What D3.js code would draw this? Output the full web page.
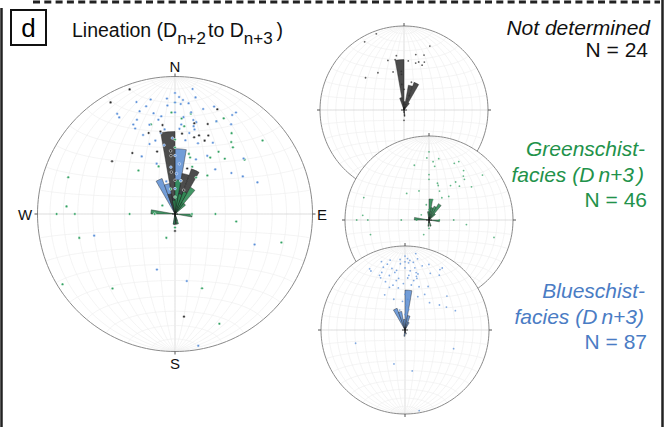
<!DOCTYPE html>
<html>
<head>
<meta charset="utf-8">
<script src="https://cdn.jsdelivr.net/npm/d3@7"></script>
<style>
body { margin: 0; background: #fff; }
svg { display: block; font-family: "Liberation Sans", Arial, sans-serif; }
</style>
</head>
<body>
<div id="app"></div>
<script>
// lineations as [trend, plunge] in degrees
const blackPts = [[340,4],[330,7],[22,19],[352,35],[342,38],[350,39],[5,41],[20,31],[14,42],[17,40],
    [22,42],[23,38],[325,45],[344,51],[310,40],[175,26],[356,52],[356,55],[12,33],[0,70],
    [15,62],[20,75],[180,80],[355,65]];

const bluePts = [[0,13],[8,9],[341,15],[348,16],[356,17],[2,16],[4,18],[3,21],[7,20],[20,18],
    [341,22],[348,26],[0,27],[9,26],[330,17],[330,20],[31,15],[30,18],[350,31],[11,31],
    [13,32],[335,29],[344,33],[4,35],[32,24],[335,32],[13,37],[338,38],[28,41],[340,45],
    [330,50],[29,50],[51,36],[21,55],[42,54],[54,48],[61,43],[69,36],[255,39],[111,38],
    [198,55],[170,49],[170,3],
    [10,15],[353,38],[3,38],[12,35],[24,27],[350,40],[10,40],[351,48],
    [0,55],[5,60],[355,62],[340,58],[2,66],[10,70],[345,70],[0,75],
    [356,22],[0,20],[5,30],[352,29],[345,20],[15,22],[338,27],[8,45],[358,44],[18,45],[345,44]];

const greenPts = [[0,20],[358,27],[9,27],[27,23],[4,31],[24,27],[35,29],[38,34],[50,18],[41,36],
    [35,44],[13,53],[42,45],[341,60],[320,56],[289,19],[274,22],[270,15],[270,28],[270,63],
    [90,66],[304,81],[97,53],[256,29],[105,21],[160,42],[238,4],[220,30],[158,15],
    [6,36],[345,33],[52,36],[32,50],[0,45],[0,50],
    [10,70],[30,65],[350,75],[20,60],[40,60],[0,80],[180,82],[90,80],[270,78],[200,75],[15,55]];

// rose petals: [bin start (deg), frequency %]
const blackRose = [[350,24],[10,12],[20,14],[0,4],[340,6],[30,4],[170,3]];
const blueRose = [[0,19],[330,11],[340,9],[10,7],[350,5],[20,4],[180,3],[160,2]];
const greenRose = [[0,10],[10,6],[20,7],[30,9],[40,4],[350,4],[270,7],[90,5],[180,3],[160,3]];

const groupNames = ["Not determined", "Greenschist-", "Blueschist-"];
const groupN = [24, 46, 87];

const colors = {black: "#2b2b2b", blue: "#5a8fd8", green: "#33a263"};
const petalColors = {black: "#383838", blue: "#6392d4", green: "#2f8c55"};

const width = 665, height = 427;
const rad = Math.PI / 180;

const svg = d3.select("#app").append("svg")
    .attr("width", width)
    .attr("height", height);

// frame
svg.append("line")
    .attr("x1", 33).attr("x2", 660).attr("y1", 2).attr("y2", 2)
    .attr("stroke", "#222").attr("stroke-width", 3)
    .attr("stroke-dasharray", "7,4.3");
svg.append("line")
    .attr("x1", 1.5).attr("x2", 1.5).attr("y1", 8).attr("y2", height)
    .attr("stroke", "#222").attr("stroke-width", 2.5);
svg.append("line")
    .attr("x1", 662.5).attr("x2", 662.5).attr("y1", 0).attr("y2", height)
    .attr("stroke", "#222").attr("stroke-width", 2.5);

// panel letter
svg.append("rect")
    .attr("x", 11).attr("y", 10).attr("width", 35).attr("height", 35)
    .attr("fill", "none").attr("stroke", "#111").attr("stroke-width", 2);
svg.append("text")
    .attr("x", 28.5).attr("y", 37)
    .attr("text-anchor", "middle")
    .attr("font-size", 26)
    .text("d");

let title = svg.append("text")
    .attr("x", 72).attr("y", 37)
    .attr("font-size", 19.5)
    .attr("fill", "#111");
title.append("tspan").text("Lineation (D");
title.append("tspan").attr("dy", 7).attr("font-size", 17).text("n+2");
title.append("tspan").attr("dy", -7).attr("dx", 2).text("to D");
title.append("tspan").attr("dy", 7).attr("font-size", 17).text("n+3");
title.append("tspan").attr("dy", -7).attr("dx", 4).text(")");

function toLonLat(d) {
    let t = d[0] * rad, p = d[1] * rad;
    let n = Math.cos(p) * Math.cos(t);
    let e = Math.cos(p) * Math.sin(t);
    let down = Math.sin(p);
    return [Math.atan2(e, down) / rad, Math.asin(n) / rad];
}

function gridLines() {
    let lines = [];
    for (let lon = -80; lon <= 80; lon += 10) {
        lines.push({major: lon === 0, coords: d3.range(-90, 90.1, 2).map(lat => [lon, lat])});
    }
    for (let lat = -80; lat <= 80; lat += 10) {
        lines.push({major: lat === 0, coords: d3.range(-90, 90.1, 2).map(lon => [lon, lat])});
    }
    return lines;
}

function drawNet(cx, cy, R, sets, roses, ptR, ticks) {
    let g = svg.append("g");
    let projection = d3.geoAzimuthalEqualArea()
        .scale(R / Math.SQRT2)
        .translate([cx, cy])
        .clipAngle(90)
        .precision(0.1);
    let path = d3.geoPath(projection);

    g.append("path")
        .datum({type: "Sphere"})
        .attr("d", path)
        .attr("fill", "#fff");

    g.append("g").selectAll("path")
        .data(gridLines())
        .enter()
        .append("path")
            .attr("d", d => path({type: "LineString", coordinates: d.coords}))
            .attr("fill", "none")
            .attr("stroke", d => d.major ? "#d4d4d4" : "#ededed")
            .attr("stroke-width", d => d.major ? 0.8 : 0.6);

    g.append("path")
        .datum({type: "Sphere"})
        .attr("d", path)
        .attr("fill", "none")
        .attr("stroke", "#8a8a8a")
        .attr("stroke-width", 1);

    if (ticks) {
        let tk = [[0, 90], [0, -90], [90, 0], [-90, 0]];
        g.selectAll(".tick")
            .data(tk)
            .enter()
            .append("line")
                .attr("x1", d => projection(d)[0])
                .attr("y1", d => projection(d)[1])
                .attr("x2", d => projection(d)[0] + (d[0] === 0 ? 0 : Math.sign(d[0]) * 3))
                .attr("y2", d => projection(d)[1] + (d[0] === 0 ? -Math.sign(d[1]) * 3 : 0))
                .attr("stroke", "#555")
                .attr("stroke-width", 1);
    }

    // rose diagram
    let rScale = d3.scaleLinear().domain([0, 40]).range([0, R]);
    let arc = d3.arc()
        .innerRadius(0)
        .outerRadius(d => rScale(d[1]))
        .startAngle(d => d[0] * rad)
        .endAngle(d => (d[0] + 10) * rad);

    for (const r of roses) {
        g.append("g")
            .attr("transform", "translate(" + cx + "," + cy + ")")
            .selectAll("path")
            .data(r.data)
            .enter()
            .append("path")
                .attr("d", arc)
                .attr("fill", petalColors[r.color])
                .attr("fill-opacity", 0.9)
                .attr("stroke", "#1b1b1b")
                .attr("stroke-width", 0.4);
    }

    // centre cross
    let c = projection([0, 0]);
    g.append("path")
        .attr("d", "M" + (c[0] - 3) + "," + c[1] + "h6M" + c[0] + "," + (c[1] - 3) + "v6")
        .attr("stroke", "#111").attr("stroke-width", 0.8);

    for (const s of sets) {
        g.append("g").selectAll("circle")
            .data(s.data)
            .enter()
            .append("circle")
                .attr("cx", d => projection(toLonLat(d))[0])
                .attr("cy", d => projection(toLonLat(d))[1])
                .attr("r", ptR)
                .attr("fill", colors[s.color])
                .attr("fill-opacity", ptR > 1 ? 1 : 0.75)
                .attr("stroke", ptR > 1 ? "#fff" : "none")
                .attr("stroke-width", 0.5);
    }
    return projection;
}

// main net with all data
drawNet(175, 214, 137.5,
    [{data: greenPts, color: "green"}, {data: bluePts, color: "blue"}, {data: blackPts, color: "black"}],
    [{data: blueRose, color: "blue"}, {data: blackRose, color: "black"}, {data: greenRose, color: "green"}],
    1.3, true);

svg.append("g").selectAll("text")
    .data([["N", 175, 72], ["S", 175, 369], ["W", 25, 220], ["E", 322, 220]])
    .enter()
    .append("text")
        .attr("x", d => d[1])
        .attr("y", d => d[2])
        .attr("text-anchor", "middle")
        .attr("font-size", 15)
        .attr("fill", "#111")
        .text(d => d[0]);

// small nets per group
drawNet(404, 110, 84, [{data: blackPts, color: "black"}], [{data: blackRose, color: "black"}], 0.9, true);
drawNet(429, 220, 84, [{data: greenPts, color: "green"}], [{data: greenRose, color: "green"}], 0.9, true);
drawNet(405, 330, 84, [{data: bluePts, color: "blue"}], [{data: blueRose, color: "blue"}], 0.9, true);

// group labels
const labelColor = ["#111", "#22924a", "#4a7cc4"];
const fs = 21;

svg.append("text")
    .attr("x", 650).attr("y", 35)
    .attr("text-anchor", "end").attr("font-size", fs).attr("font-style", "italic")
    .attr("fill", labelColor[0])
    .text(groupNames[0]);
svg.append("text")
    .attr("x", 648).attr("y", 57)
    .attr("text-anchor", "end").attr("font-size", fs)
    .attr("fill", labelColor[0])
    .text("N = " + groupN[0]);

function faciesLabel(i, y) {
    svg.append("text")
        .attr("x", 645).attr("y", y)
        .attr("text-anchor", "end").attr("font-size", fs).attr("font-style", "italic")
        .attr("fill", labelColor[i])
        .text(groupNames[i]);
    let t = svg.append("text")
        .attr("x", 644).attr("y", y + 26)
        .attr("text-anchor", "end").attr("font-size", fs).attr("font-style", "italic")
        .attr("fill", labelColor[i]);
    t.append("tspan").text("facies (D");
    t.append("tspan").attr("dx", 4).text("n+3");
    t.append("tspan").attr("dx", i === 1 ? 3 : 0).text(")");
    svg.append("text")
        .attr("x", 647).attr("y", y + 51)
        .attr("text-anchor", "end").attr("font-size", fs)
        .attr("fill", labelColor[i])
        .text("N = " + groupN[i]);
}
faciesLabel(1, 156);
faciesLabel(2, 298);
</script>
</body>
</html>
